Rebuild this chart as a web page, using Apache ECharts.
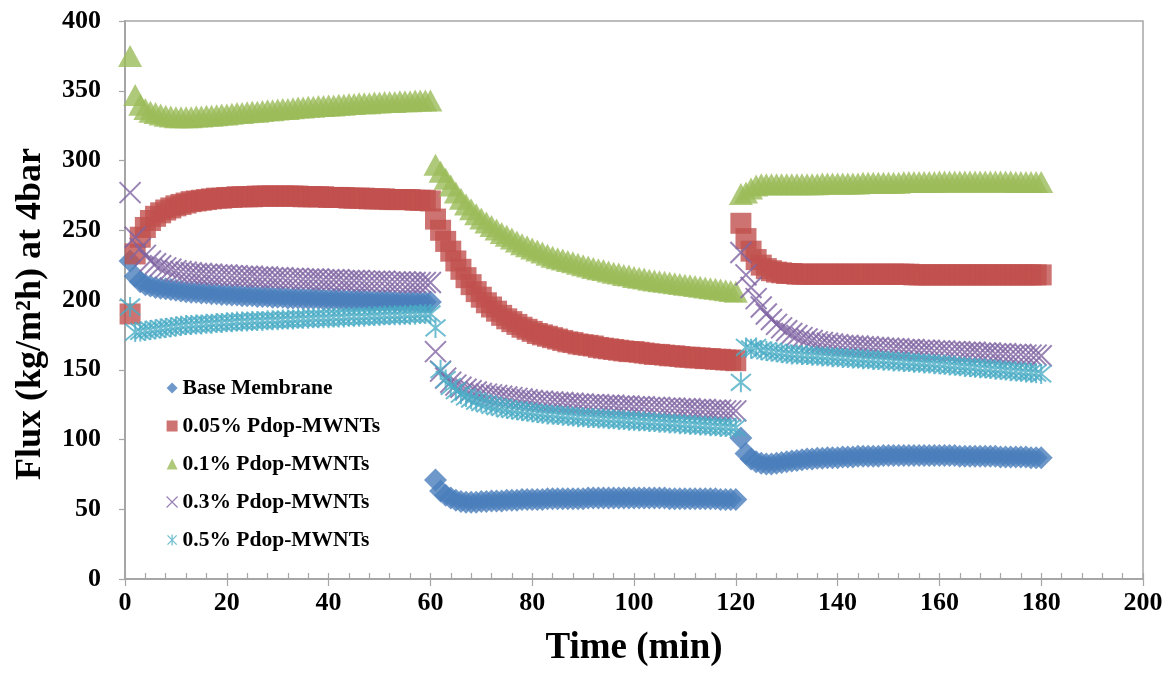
<!DOCTYPE html>
<html>
<head>
<meta charset="utf-8">
<script src="https://cdn.jsdelivr.net/npm/echarts@6/dist/echarts.min.js"></script>
<style>html,body{margin:0;padding:0;background:#fff}#c{width:1174px;height:673px}</style>
</head>
<body>
<div id="c"></div>
<script>
const minutes = [
1,2,3,4,5,6,7,8,9,10,11,12,13,14,15,16,17,18,19,20,
21,22,23,24,25,26,27,28,29,30,31,32,33,34,35,36,37,38,39,40,
41,42,43,44,45,46,47,48,49,50,51,52,53,54,55,56,57,58,59,60,
61,62,63,64,65,66,67,68,69,70,71,72,73,74,75,76,77,78,79,80,
81,82,83,84,85,86,87,88,89,90,91,92,93,94,95,96,97,98,99,100,
101,102,103,104,105,106,107,108,109,110,111,112,113,114,115,116,117,118,119,120,
121,122,123,124,125,126,127,128,129,130,131,132,133,134,135,136,137,138,139,140,
141,142,143,144,145,146,147,148,149,150,151,152,153,154,155,156,157,158,159,160,
161,162,163,164,165,166,167,168,169,170,171,172,173,174,175,176,177,178,179,180
];

const baseMembrane = [
228,217,213,211,210,209,208.5,208,207.5,207,
206.5,206,205.5,205.5,205,205,204.5,204.5,204,204,
203.5,203.5,203,203,203,202.5,202.5,202.5,202,202,
202,201.5,201.5,201.5,201,201,201,201,200.5,200.5,
200.5,200.5,200,200,200,200,200,199.5,199.5,199.5,
199.5,199.5,199,199,199,199,199,198.5,198.5,198.5,
71,63,60,58,56.5,55.5,55,55,55,55.5,
55.5,56,56,56,56.5,56.5,56.5,57,57,57,
57,57,57.5,57.5,57.5,57.5,57.5,57.5,57.5,57.5,
58,58,58,58,58,58,58,58,58,58,
58,58,58,58,58,58,57.5,57.5,57.5,57.5,
57.5,57.5,57.5,57.5,57.5,57.5,57,57,57,57,
101,90,86,84,83,82.5,82.5,83,83.5,84,
84.5,85,85.5,86,86,86.5,86.5,87,87,87,
87.5,87.5,87.5,88,88,88,88,88,88.5,88.5,
88.5,88.5,88.5,88.5,88.5,88.5,88.5,88.5,88.5,88.5,
88.5,88.5,88.5,88,88,88,88,88,88,88,
88,87.5,87.5,87.5,87.5,87.5,87.5,87,87,87
];

const pdop005 = [
190,233,245,252,257,260,262.5,264.5,266,267.5,
268.5,269.5,270.5,271,271.5,272,272.5,273,273,273.5,
273.5,274,274,274,274,274.5,274.5,274.5,274.5,274.5,
274.5,274.5,274.5,274.5,274,274,274,274,274,273.5,
273.5,273.5,273.5,273,273,273,273,272.5,272.5,272.5,
272.5,272,272,272,272,272,271.5,271.5,271.5,271,
258,250,242,235,228,222,216,211,206,202,
198,195,192,189,186.5,184.5,182.5,180.5,179,177.5,
176,175,174,173,172,171,170,169.5,168.5,168,
167.5,167,166,165.5,165,164.5,164,163.5,163,163,
162.5,162,161.5,161,161,160.5,160,160,159.5,159,
159,158.5,158.5,158,158,157.5,157.5,157,157,156.5,
255,244,235,229,225,222.5,221,220,219.5,219,
219,218.5,218.5,218.5,218.5,218.5,218.5,218.5,218.5,218.5,
218.5,218.5,218.5,218.5,218.5,218.5,218.5,218.5,218.5,218.5,
218.5,218.5,218.5,218.5,218,218,218,218,218,218,
218,218,218,218,218,218,218,218,218,218,
218,218,218,218,218,218,218,218,218,218
];

const pdop01 = [
375,347,340,337,335,334,333,332,331.5,331,
331,331,331,331.5,331.5,332,332,332.5,333,333,
333.5,334,334,334.5,335,335,335.5,336,336,336.5,
337,337,337.5,338,338,338.5,338.5,339,339,339.5,
339.5,340,340,340.5,340.5,341,341,341,341.5,341.5,
342,342,342,342.5,342.5,342.5,343,343,343,343,
297,292,287,282,277,272.5,268.5,265,261.5,258.5,
255.5,253,250.5,248,246,244,242,240,238.5,237,
235.5,234,232.5,231,230,229,228,227,226,225,
224,223,222,221.5,220.5,219.5,219,218,217.5,216.5,
216,215.5,214.5,214,213.5,213,212.5,212,211.5,211,
210.5,210,209.5,209,208.5,208,207.5,207,206.5,206,
276,277,280,282,283,283,283,283,283,283,
283,283,283,283,283,283,283.5,283.5,283.5,283.5,
283.5,283.5,283.5,283.5,284,284,284,284,284,284,
284,284,284.5,284.5,284.5,284.5,284.5,284.5,284.5,285,
285,285,285,285,285,285,285,285,285,285,
285,285,285,285,284.5,284.5,284.5,284.5,284.5,284.5
];

const pdop03 = [
277,245,237,232,228,226,224.5,223,222,221,
220.5,220,219.5,219,219,218.5,218.5,218,218,218,
217.5,217.5,217,217,217,216.5,216.5,216.5,216,216,
216,215.5,215.5,215.5,215,215,215,215,214.5,214.5,
214.5,214.5,214,214,214,214,213.5,213.5,213.5,213.5,
213.5,213,213,213,213,212.5,212.5,212.5,212.5,212.5,
163,149,144,141,139,137.5,136,135,134,133,
132.5,132,131.5,131,130.5,130,129.5,129,128.5,128,
127.5,127.5,127,127,126.5,126.5,126,126,125.5,125.5,
125,125,125,124.5,124.5,124.5,124,124,124,123.5,
123.5,123.5,123,123,123,122.5,122.5,122.5,122,122,
122,121.5,121.5,121.5,121,121,121,120.5,120.5,120.5,
234,218,209,201,195,190,186,182.5,180,178,
176,174.5,173,172,171,170,169.5,169,168.5,168,
167.5,167.5,167,167,166.5,166.5,166,166,165.5,165.5,
165,165,164.5,164.5,164.5,164,164,164,163.5,163.5,
163.5,163,163,163,162.5,162.5,162.5,162,162,162,
161.5,161.5,161.5,161,161,161,160.5,160.5,160.5,160
];

const pdop05 = [
195,177,177.5,178,178.5,179,179.5,180,180.5,181,
181.5,182,182,182.5,182.5,183,183,183.5,183.5,184,
184,184.5,184.5,184.5,185,185,185,185.5,185.5,185.5,
186,186,186,186.5,186.5,186.5,187,187,187,187,
187.5,187.5,187.5,188,188,188,188,188.5,188.5,188.5,
189,189,189,189,189.5,189.5,189.5,190,190,190,
180,150,143,138,135,132.5,130.5,129,127.5,126.5,
125.5,124.5,123.5,123,122,121.5,121,120.5,120,119.5,
119,118.5,118,118,117.5,117,117,116.5,116,116,
115.5,115.5,115,115,114.5,114.5,114,114,113.5,113.5,
113,113,112.5,112.5,112,112,111.5,111.5,111,111,
110.5,110.5,110,110,109.5,109.5,109,109,108.5,108.5,
141,166,165,166,164,163.5,163,162.5,162,161.5,
161,161,160.5,160.5,160,160,159.5,159.5,159,159,
158.5,158.5,158,158,157.5,157.5,157,157,156.5,156.5,
156,156,155.5,155.5,155,155,154.5,154.5,154,154,
153.5,153,153,152.5,152,152,151.5,151,151,150.5,
150,150,149.5,149,149,148.5,148,148,147.5,147
];

const seriesNames = ['Base Membrane','0.05% Pdop-MWNTs','0.1% Pdop-MWNTs','0.3% Pdop-MWNTs','0.5% Pdop-MWNTs'];
const seriesValues = [baseMembrane, pdop005, pdop01, pdop03, pdop05];
const seriesColors = ['#4A7EBB','#C0504D','#9BBB59','#8064A2','#4BACC6'];

const xMarker = 'path://M0,0L10,10M10,0L0,10';
const starMarker = 'path://M0,0L10,10M10,0L0,10M5,-1L5,11';

const serif = 'Liberation Serif';
const axisGrey = '#A6A6A6';

function pairs(vals){ return minutes.map((t,i)=>[t, vals[i]]); }

const styles = [
  {symbol:'diamond', symbolSize:23, itemStyle:{color:seriesColors[0]}},
  {symbol:'rect', symbolSize:21, itemStyle:{color:seriesColors[1]}},
  {symbol:'triangle', symbolSize:[24,22], itemStyle:{color:seriesColors[2]}},
  {symbol:xMarker, symbolSize:21, itemStyle:{color:'rgba(0,0,0,0)', borderColor:seriesColors[3], borderWidth:2}},
  {symbol:starMarker, symbolSize:20, itemStyle:{color:'rgba(0,0,0,0)', borderColor:seriesColors[4], borderWidth:2}}
];

const series = seriesNames.map((n,i)=>Object.assign({
  name:n, type:'scatter', data:pairs(seriesValues[i]), xAxisIndex:0, yAxisIndex:0,
  animation:false, large:false
}, styles[i]));

const chart = echarts.init(document.getElementById('c'), null, {renderer:'canvas'});
chart.setOption({
  backgroundColor:'#fff',
  animation:false,
  grid:{left:125, right:31, top:21, bottom:94, show:true, borderColor:axisGrey, borderWidth:1.5, backgroundColor:'transparent'},
  legend:{
    orient:'vertical', left:161, top:372, itemGap:16, itemWidth:11, itemHeight:11,
    data:seriesNames.map((n,i)=>({name:n, itemStyle: i>=3 ? {borderWidth:1.2} : undefined})),
    textStyle:{fontFamily:serif, fontWeight:'bold', fontSize:21.5, color:'#000'},
    selectedMode:false
  },
  xAxis:[{
    type:'value', min:0, max:200, interval:20, position:'bottom',
    name:'Time (min)', nameLocation:'middle', nameGap:51,
    nameTextStyle:{fontFamily:serif, fontWeight:'bold', fontSize:37, color:'#000'},
    axisLine:{show:true, onZero:false, lineStyle:{color:axisGrey, width:2}},
    axisTick:{show:true, inside:false, length:7, lineStyle:{color:axisGrey, width:1.2}},
    axisLabel:{fontFamily:serif, fontWeight:'bold', fontSize:26, color:'#000', margin:11},
    splitLine:{show:false}
  },{
    type:'value', min:0, max:200, interval:20, position:'bottom', offset:0,
    axisLine:{show:false}, axisLabel:{show:false},
    axisTick:{show:true, inside:true, length:6, lineStyle:{color:axisGrey, width:1.2}},
    minorTick:{show:true, splitNumber:5, length:6, lineStyle:{color:axisGrey, width:1.2}},
    splitLine:{show:false}
  }],
  yAxis:{
    type:'value', min:0, max:400, interval:50,
    name:'Flux (kg/m²h) at 4bar', nameLocation:'middle', nameGap:76,
    nameTextStyle:{fontFamily:serif, fontWeight:'bold', fontSize:36, color:'#000', padding:[0,28,0,0]},
    axisLine:{show:true, lineStyle:{color:axisGrey, width:2}},
    axisTick:{show:true, inside:false, length:6, lineStyle:{color:axisGrey, width:1.2}},
    axisLabel:{fontFamily:serif, fontWeight:'bold', fontSize:26, color:'#000', margin:24},
    splitLine:{show:false}
  },
  series:series
});
</script>
</body>
</html>
